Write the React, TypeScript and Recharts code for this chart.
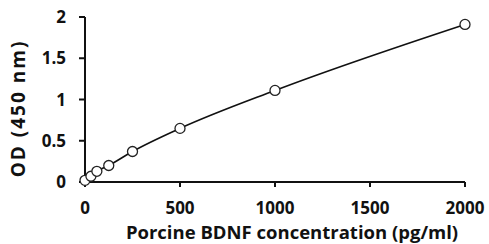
import { LineChart, Line, XAxis, YAxis, Label } from 'recharts'

// Standard curve: concentration (pg/ml) vs OD at 450 nm
const concentrations = [0, 31.25, 62.5, 125, 250, 500, 1000, 2000]
const odValues = [0.02, 0.07, 0.13, 0.2, 0.37, 0.65, 1.11, 1.91]
const xTicks = [0, 500, 1000, 1500, 2000]
const yTicks = [0, 0.5, 1, 1.5, 2]

const data = concentrations.map((c, i) => ({ conc: c, od: odValues[i] }))

const FONT = '"Open Sans", Lato, sans-serif'
const tickStyle = { fontSize: 17, fontWeight: 700, fill: '#111', fontFamily: FONT }

function OpenCircle(props: any) {
  const { cx, cy, index } = props
  return <circle key={index} cx={cx} cy={cy} r={5} fill="#fff" stroke="#222" strokeWidth={1.3} />
}

export default function App() {
  return (
    <div style={{ position: 'fixed', left: 0, top: 0, width: 489, height: 244, background: '#fff' }}>
      <LineChart width={489} height={244} data={data} margin={{ top: 17, right: 24, bottom: 0, left: 0 }}>
        <XAxis
          dataKey="conc"
          type="number"
          domain={[0, 2000]}
          ticks={xTicks}
          stroke="#111"
          strokeWidth={2}
          tickSize={5}
          tickMargin={15}
          tick={tickStyle}
          height={62}
        >
          <Label
            value="Porcine BDNF concentration (pg/ml)"
            position="insideBottom"
            offset={5}
            dx={17}
            style={{ fontSize: 18.5, fontWeight: 700, fill: '#111', fontFamily: FONT }}
          />
        </XAxis>
        <YAxis
          type="number"
          domain={[0, 2]}
          ticks={yTicks}
          stroke="#111"
          strokeWidth={2}
          tickSize={6}
          tickMargin={13}
          tick={tickStyle}
          width={85}
        >
          <Label
            value="OD (450 nm)"
            angle={-90}
            position="insideLeft"
            offset={18}
            dy={9}
            style={{ textAnchor: 'middle', fontSize: 19, fontWeight: 700, letterSpacing: 2, fill: '#111', fontFamily: FONT }}
          />
        </YAxis>
        <Line
          dataKey="od"
          type="monotone"
          stroke="#111"
          strokeWidth={1.6}
          dot={OpenCircle}
          activeDot={false}
          isAnimationActive={false}
        />
      </LineChart>
    </div>
  )
}
